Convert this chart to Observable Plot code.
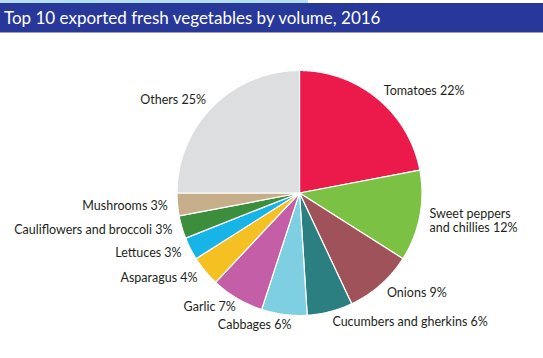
<!DOCTYPE html>
<html>
<head>
<meta charset="utf-8">
<script src="https://cdn.jsdelivr.net/npm/d3@7"></script>
<script src="https://cdn.jsdelivr.net/npm/@observablehq/plot@0.6"></script>
<style>
  html, body { margin: 0; padding: 0; background: #fff; }
  body { width: 543px; height: 358px; overflow: hidden; font-family: Lato, "Open Sans", sans-serif; }
  #strip { width: 308px; height: 3px; background: #b5def3; }
  #title { height: 29px; background: #27389a; color: #fff; font-size: 17px; line-height: 29px; padding-left: 4px; border-bottom: 1px solid #9aa0b8; box-sizing: content-box; white-space: nowrap; }
  #chart svg { display: block; overflow: visible; }
</style>
</head>
<body>
<div id="strip"></div>
<div id="title">Top 10 exported fresh vegetables by volume, 2016</div>
<div id="chart"></div>
<script>
// Data
const categories = ["Tomatoes", "Sweet peppers and chillies", "Onions", "Cucumbers and gherkins", "Cabbages", "Garlic", "Asparagus", "Lettuces", "Cauliflowers and broccoli", "Mushrooms", "Others"];
const shares = [22, 12, 9, 6, 6, 7, 4, 3, 3, 3, 25];
const labelLines = [["Tomatoes 22%"], ["Sweet peppers", "and chillies 12%"], ["Onions 9%"], ["Cucumbers and gherkins 6%"], ["Cabbages 6%"], ["Garlic 7%"], ["Asparagus 4%"], ["Lettuces 3%"], ["Cauliflowers and broccoli 3%"], ["Mushrooms 3%"], ["Others 25%"]];
const colors = ["#ec1a4a", "#7bc143", "#a0525a", "#2b7f80", "#7ecfe2", "#c45ea6", "#f5c022", "#17b4e8", "#3c8e3c", "#c5ae89", "#dddee0"];

// Layout (label nudges in radius units)
const labelRadius = 1.08;
const nudge = {"Cabbages": [0.07, 0.0], "Garlic": [0.03, 0], "Sweet peppers and chillies": [0, -0.02]};

const total = d3.sum(shares);
const slices = [];
let acc = 0;
categories.forEach((c, i) => {
  const a0 = acc / total * 2 * Math.PI;
  acc += shares[i];
  const a1 = acc / total * 2 * Math.PI;
  slices.push({name: c, a0, a1, mid: (a0 + a1) / 2, i});
});

// Outline points for each slice (x = sin, y = cos -> clockwise from 12 o'clock)
const outline = [];
for (const s of slices) {
  outline.push({name: s.name, x: 0, y: 0});
  const n = Math.max(4, Math.ceil((s.a1 - s.a0) / 0.01));
  for (let k = 0; k <= n; k++) {
    const a = s.a0 + (s.a1 - s.a0) * k / n;
    outline.push({name: s.name, x: Math.sin(a), y: Math.cos(a)});
  }
  outline.push({name: s.name, x: 0, y: 0});
}

// Labels
const labels = [];
for (const s of slices) {
  const lines = labelLines[s.i];
  const nd = nudge[s.name] || [0, 0];
  const x = Math.sin(s.mid) * labelRadius + nd[0];
  const y = Math.cos(s.mid) * labelRadius + nd[1];
  const anchor = Math.sin(s.mid) >= 0 ? "start" : "end";
  labels.push({text: lines.join("\n"), x, y, anchor});
}

const svgTop = 33;
const cx = 299, cy = 192.5, R = 122.5;
const W = 543, H = 358 - svgTop;

const chart = Plot.plot({
  width: W,
  height: H,
  marginLeft: cx - R,
  marginRight: W - (cx + R),
  marginTop: (cy - svgTop) - R,
  marginBottom: H - ((cy - svgTop) + R),
  x: {domain: [-1, 1], axis: null},
  y: {domain: [-1, 1], axis: null},
  color: {domain: categories, range: colors},
  style: {fontFamily: "Lato, 'Open Sans', sans-serif", fontSize: "12.5px", color: "#231f20", background: "transparent"},
  marks: [
    Plot.line(outline, {x: "x", y: "y", z: "name", fill: "name", stroke: "#fff", strokeWidth: 1.2, strokeLinejoin: "round", curve: "linear"}),
    Plot.text(labels.filter(d => d.anchor === "start"), {x: "x", y: "y", text: "text", textAnchor: "start", fill: "#231f20", lineHeight: 1.1}),
    Plot.text(labels.filter(d => d.anchor === "end"), {x: "x", y: "y", text: "text", textAnchor: "end", fill: "#231f20", lineHeight: 1.1})
  ]
});
document.getElementById("chart").appendChild(chart);
</script>
</body>
</html>
